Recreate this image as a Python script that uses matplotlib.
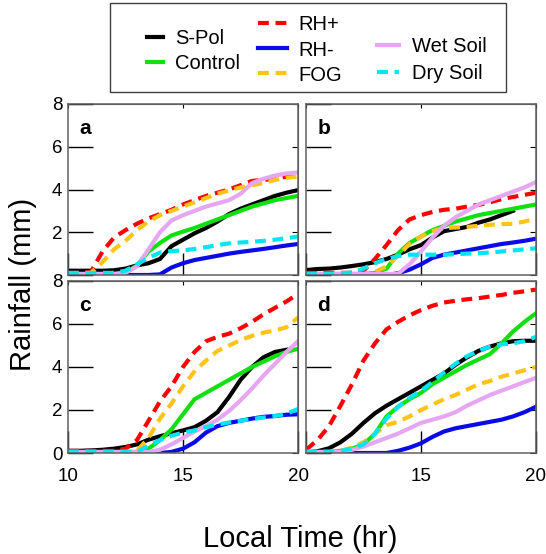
import numpy as np
import matplotlib.pyplot as plt

plt.rcParams['font.family'] = ['Liberation Sans', 'DejaVu Sans']

# half-hourly accumulated rainfall, 10-20 LT
hours = np.arange(10, 20.01, 0.5)
nan = np.nan

# panel a
a_spol = [0.2, 0.2, 0.2, 0.2, 0.22, 0.3, 0.45, 0.55, 0.75, 1.35, 1.65, 1.95, 2.2, 2.5, 2.85, 3.1, 3.3, 3.5, 3.7, 3.85, 3.97]
a_control = [0.05, 0.05, 0.05, 0.05, 0.05, 0.1, 0.45, 1.1, 1.5, 1.85, 2.03, 2.2, 2.4, 2.6, 2.8, 3.0, 3.2, 3.35, 3.5, 3.6, 3.7]
a_rhplus = [0.1, 0.1, 0.15, 1.1, 1.75, 2.1, 2.4, 2.65, 2.85, 3.05, 3.3, 3.5, 3.7, 3.85, 4.0, 4.2, 4.4, 4.45, 4.5, 4.6, 4.7]
a_rhminus = [0, 0, 0, 0, 0, 0, 0, 0, 0.03, 0.35, 0.55, 0.7, 0.8, 0.9, 1.0, 1.08, 1.15, 1.22, 1.3, 1.38, 1.45]
a_fog = [0.05, 0.05, 0.1, 0.6, 1.2, 1.6, 2.1, 2.5, 2.8, 3.0, 3.2, 3.4, 3.6, 3.8, 3.95, 4.1, 4.2, 4.3, 4.45, 4.55, 4.6]
a_wet = [0.05, 0.05, 0.05, 0.05, 0.05, 0.1, 0.4, 1.2, 2.0, 2.55, 2.8, 3.0, 3.2, 3.35, 3.5, 3.8, 4.3, 4.5, 4.65, 4.75, 4.8]
a_dry = [0.1, 0.1, 0.1, 0.1, 0.1, 0.2, 0.5, 0.8, 1.05, 1.12, 1.15, 1.22, 1.3, 1.4, 1.48, 1.52, 1.55, 1.6, 1.65, 1.72, 1.8]

# panel b
b_spol = [0.23, 0.28, 0.3, 0.35, 0.42, 0.5, 0.6, 0.75, 0.95, 1.2, 1.4, 1.75, 2.05, 2.15, 2.25, 2.45, 2.6, 2.8, 3.0, nan, nan]
b_control = [0.05, 0.05, 0.05, 0.05, 0.05, 0.05, 0.1, 0.3, 1.0, 1.5, 1.8, 2.1, 2.3, 2.5, 2.65, 2.8, 2.9, 3.0, 3.1, 3.2, 3.3]
b_rhplus = [0.1, 0.1, 0.1, 0.1, 0.1, 0.2, 0.75, 1.4, 2.1, 2.6, 2.8, 2.95, 3.05, 3.1, 3.2, 3.28, 3.4, 3.55, 3.65, 3.75, 3.85]
b_rhminus = [0, 0, 0, 0, 0, 0, 0, 0, 0.08, 0.25, 0.5, 0.8, 0.95, 1.05, 1.15, 1.25, 1.35, 1.45, 1.52, 1.6, 1.7]
b_fog = [0.05, 0.05, 0.05, 0.05, 0.05, 0.05, 0.15, 0.4, 0.9, 1.45, 1.8, 2.05, 2.2, 2.22, 2.25, 2.3, 2.35, 2.38, 2.4, 2.5, 2.65]
b_wet = [0.05, 0.05, 0.05, 0.05, 0.05, 0.05, 0.05, 0.05, 0.05, 0.5, 1.1, 1.75, 2.3, 2.7, 3.0, 3.3, 3.5, 3.7, 3.9, 4.1, 4.35]
b_dry = [0.05, 0.05, 0.05, 0.08, 0.12, 0.3, 0.55, 0.75, 0.88, 0.95, 0.95, 0.95, 0.95, 0.97, 1.0, 1.02, 1.05, 1.1, 1.15, 1.2, 1.25]

# panel c
c_spol = [0.1, 0.1, 0.12, 0.15, 0.2, 0.28, 0.4, 0.62, 0.78, 0.92, 1.05, 1.2, 1.5, 1.9, 2.6, 3.4, 4.0, 4.45, 4.7, 4.8, nan]
c_control = [0.05, 0.05, 0.05, 0.05, 0.05, 0.05, 0.05, 0.2, 0.6, 1.1, 1.8, 2.5, 2.8, 3.1, 3.4, 3.7, 4.0, 4.25, 4.5, 4.7, 4.85]
c_rhplus = [0.1, 0.1, 0.1, 0.1, 0.1, 0.2, 0.6, 1.5, 2.4, 3.1, 4.0, 4.7, 5.2, 5.4, 5.55, 5.8, 6.1, 6.45, 6.75, 7.05, 7.4]
c_rhminus = [0, 0, 0, 0, 0, 0, 0, 0, 0, 0.05, 0.2, 0.5, 0.95, 1.25, 1.4, 1.5, 1.6, 1.68, 1.72, 1.78, 1.8]
c_fog = [0.05, 0.05, 0.05, 0.05, 0.05, 0.05, 0.1, 0.7, 1.6, 2.3, 3.1, 3.8, 4.3, 4.75, 5.0, 5.25, 5.45, 5.6, 5.7, 5.85, 6.3]
c_wet = [0.05, 0.05, 0.05, 0.05, 0.05, 0.05, 0.05, 0.05, 0.15, 0.4, 0.7, 1.0, 1.25, 1.55, 1.95, 2.45, 3.0, 3.6, 4.15, 4.7, 5.2]
c_dry = [0.05, 0.05, 0.05, 0.05, 0.05, 0.05, 0.05, 0.35, 0.6, 0.8, 0.95, 1.05, 1.2, 1.32, 1.42, 1.5, 1.58, 1.65, 1.72, 1.82, 2.05]

# panel d
d_spol = [0.03, 0.08, 0.22, 0.5, 0.9, 1.4, 1.85, 2.2, 2.5, 2.8, 3.1, 3.4, 3.7, 4.1, 4.45, 4.75, 4.95, 5.1, 5.2, 5.22, 5.22]
d_control = [0.05, 0.05, 0.05, 0.1, 0.2, 0.4, 0.9, 1.7, 2.15, 2.5, 2.8, 3.2, 3.5, 3.8, 4.1, 4.35, 4.6, 5.1, 5.65, 6.1, 6.5]
d_rhplus = [0.15, 0.6, 1.25, 2.2, 3.2, 4.3, 5.1, 5.75, 6.1, 6.4, 6.65, 6.85, 7.0, 7.08, 7.15, 7.2, 7.28, 7.35, 7.45, 7.52, 7.6]
d_rhminus = [0, 0, 0, 0, 0, 0, 0, 0, 0.1, 0.25, 0.45, 0.75, 1.0, 1.15, 1.25, 1.35, 1.45, 1.55, 1.7, 1.9, 2.15]
d_fog = [0.05, 0.05, 0.05, 0.1, 0.25, 0.5, 0.9, 1.3, 1.45, 1.7, 2.0, 2.25, 2.5, 2.7, 2.95, 3.2, 3.35, 3.55, 3.7, 3.85, 4.0]
d_wet = [0.05, 0.05, 0.05, 0.05, 0.15, 0.3, 0.5, 0.7, 0.9, 1.15, 1.4, 1.55, 1.7, 1.9, 2.2, 2.45, 2.7, 2.9, 3.1, 3.3, 3.5]
d_dry = [0.05, 0.05, 0.05, 0.1, 0.2, 0.4, 0.9, 1.6, 2.15, 2.55, 2.9, 3.3, 3.75, 4.15, 4.5, 4.75, 4.95, 5.05, 5.1, 5.2, 5.4]

run_names = ['S-Pol', 'Control', 'RH+', 'RH-', 'FOG', 'Wet Soil', 'Dry Soil']
run_colors = ['#000000', '#10e010', '#ff0000', '#0a0ae6', '#ffc31a', '#e6a6f2', '#00e6f0']
dash = (0, (2.6, 1.6))
run_styles = ['-', '-', dash, '-', dash, '-', dash]

panels = {
    'a': [a_spol, a_control, a_rhplus, a_rhminus, a_fog, a_wet, a_dry],
    'b': [b_spol, b_control, b_rhplus, b_rhminus, b_fog, b_wet, b_dry],
    'c': [c_spol, c_control, c_rhplus, c_rhminus, c_fog, c_wet, c_dry],
    'd': [d_spol, d_control, d_rhplus, d_rhminus, d_fog, d_wet, d_dry],
}

W, H = 546, 554
fig = plt.figure(figsize=(W / 100, H / 100), dpi=100)

# panel boxes in pixels: left, top, right, bottom
boxes = {
    'a': (68, 104, 298, 275),
    'b': (306, 104, 536, 275),
    'c': (68, 281, 298, 453),
    'd': (306, 281, 536, 453),
}
frame_col = '#606060'

handles = []
for key, series in panels.items():
    l, t, r, b = boxes[key]
    ax = fig.add_axes([l / W, 1 - b / H, (r - l) / W, (b - t) / H])
    for vals, col, ls, name in zip(series, run_colors, run_styles, run_names):
        line, = ax.plot(hours, vals, color=col, linestyle=ls, lw=3, label=name)
        if key == 'a':
            handles.append(line)
    ax.set_xlim(10, 20)
    ax.set_ylim(0, 8)
    ax.set_xticks([10, 15, 20])
    ax.set_yticks([0, 2, 4, 6, 8])
    ax.tick_params(axis='y', direction='in', length=18, width=1, labelsize=13.5, pad=4)
    ax.tick_params(axis='x', direction='in', length=16, width=1, labelsize=13.5, pad=11)
    for sp in ax.spines.values():
        sp.set_color(frame_col)
        sp.set_linewidth(1.1)
    sec_y = ax.secondary_yaxis('right')
    sec_y.set_yticks([0, 2, 4, 6, 8])
    sec_y.tick_params(direction='in', length=4, labelright=False)
    sec_y.spines['right'].set_color(frame_col)
    sec_x = ax.secondary_xaxis('top')
    sec_x.set_xticks([10, 15, 20])
    sec_x.tick_params(direction='in', length=3, labeltop=False)
    sec_x.spines['top'].set_color(frame_col)

    if key in ('a', 'b'):
        ax.set_xticklabels([])
    if key in ('b', 'd'):
        ax.set_yticklabels([])
    if key == 'a':
        ax.set_yticklabels(['', '2', '4', '6', '8'])
    if key == 'd':
        ax.set_xticklabels(['', '15', '20'])
    ax.text(0.05, 0.825, key, transform=ax.transAxes, fontsize=15,
            fontweight='bold', va='baseline')

fig.text(0.042, 0.487, 'Rainfall (mm)', rotation=90, fontsize=21,
         ha='center', va='center')
fig.text(0.549, 0.012, 'Local Time (hr)', fontsize=21, ha='center',
         va='baseline')

# legend box with three columns of entries
fig.patches.append(plt.Rectangle((110 / W, 1 - 92 / H), 396 / W, 89 / H,
                                 transform=fig.transFigure, fill=False,
                                 edgecolor='#404040', lw=1))
leg_cols = [
    ([0, 1], 147, 51, 0.79, 0.6, 0.28),
    ([2, 3, 4], 258, 50, 1.44, 0.55, 0.3),
    ([5, 6], 377, 60, 1.09, 0.65, 0.4),
]
for idx, x0, yc, hl, hp, ls in leg_cols:
    fig.legend([handles[i] for i in idx], [run_names[i] for i in idx],
               loc='center left', bbox_to_anchor=(x0 / W, 1 - yc / H),
               frameon=False, fontsize=14.5, handlelength=hl,
               handletextpad=hp, labelspacing=ls, borderpad=0,
               borderaxespad=0)

fig.savefig('out.png', dpi=100)
